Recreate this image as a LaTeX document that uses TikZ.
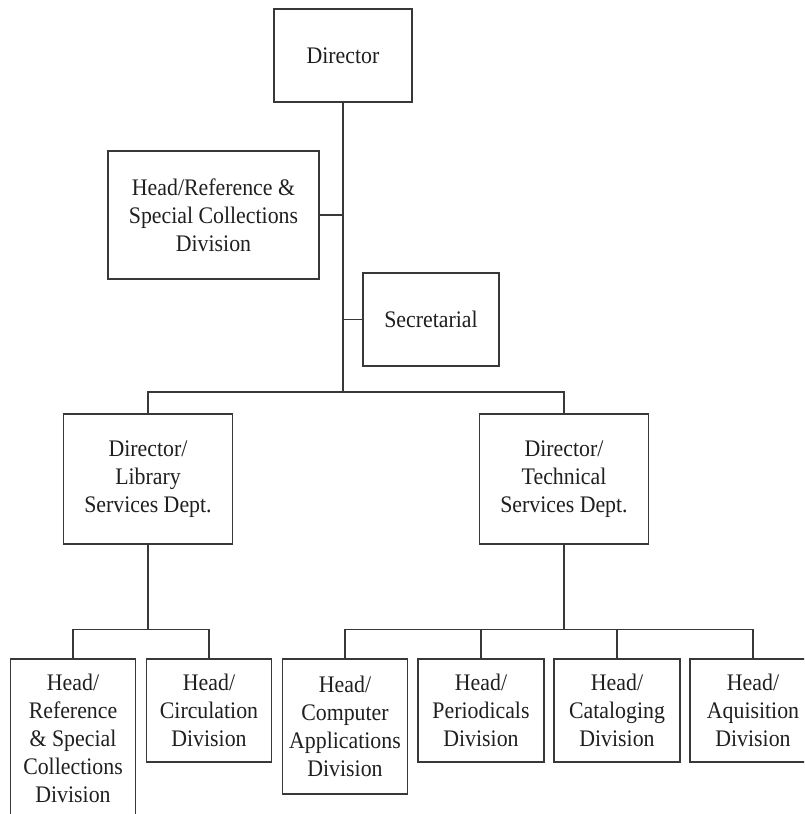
\documentclass[tikz,border=0pt]{standalone}
\usepackage{fontspec}
\setmainfont{Liberation Serif}[FakeStretch=0.92]
\begin{document}
\begin{tikzpicture}[x=0.75pt,y=-0.75pt,
  box/.style={draw=black!78,line width=0.9pt,rectangle,inner sep=0pt,align=center,
    text=black!88,font=\fontsize{17.8}{21}\selectfont},
  sz/.style 2 args={minimum width={#1*0.75pt},minimum height={#2*0.75pt}},
  conn/.style={draw=black!78,line width=0.9pt}]
\useasboundingbox (0,0) rectangle (804,814);
\clip (0,0) rectangle (804,814);
\node[box,sz={138}{93}] (dir) at (343,55.5) {Director};
\node[box,sz={211}{128}] (href) at (213.5,215) {Head/Reference \&\\Special Collections\\Division};
\node[box,sz={136}{93}] (sec) at (431,319.5) {Secretarial};
\node[box,sz={169}{130}] (lib) at (148,479) {Director/\\Library\\Services Dept.};
\node[box,sz={169}{130}] (tech) at (564,479) {Director/\\Technical\\Services Dept.};
\node[box,sz={125}{158}] (b1) at (73,738) {Head/\\Reference\\\& Special\\Collections\\Division};
\node[box,sz={125}{103}] (b2) at (209,710.5) {Head/\\Circulation\\Division};
\node[box,sz={125}{135}] (b3) at (345,726.5) {Head/\\Computer\\Applications\\Division};
\node[box,sz={126}{103}] (b4) at (481,710.5) {Head/\\Periodicals\\Division};
\node[box,sz={126}{103}] (b5) at (617,710.5) {Head/\\Cataloging\\Division};
\node[box,sz={126}{103}] (b6) at (753,710.5) {Head/\\Aquisition\\Division};
\coordinate (t1) at (343,392);
\coordinate (lbus) at (148,629.5);
\coordinate (tbus) at (564,629.5);
\draw[conn] (dir.south) -- (t1);
\draw[conn] (href.east) -- (href.east -| dir.south);
\draw[conn] (sec.west) -- (sec.west -| dir.south);
\draw[conn] (lib.north) |- (t1) -| (tech.north);
\draw[conn] (lib.south) -- (lbus);
\draw[conn] (b1.north) |- (lbus) -| (b2.north);
\draw[conn] (tech.south) -- (tbus);
\draw[conn] (b3.north) |- (tbus) -| (b6.north);
\draw[conn] (b4.north) -- (b4.north |- tbus);
\draw[conn] (b5.north) -- (b5.north |- tbus);
\end{tikzpicture}
\end{document}
